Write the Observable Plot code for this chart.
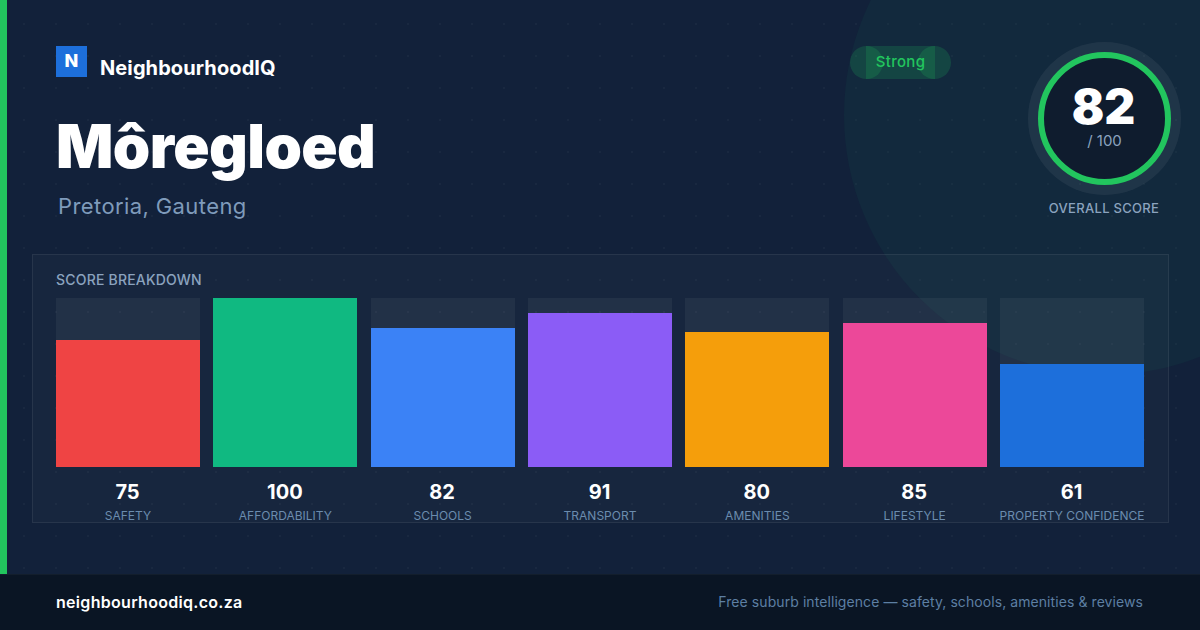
<!DOCTYPE html>
<html><head><meta charset="utf-8">
<script src="https://cdn.jsdelivr.net/npm/d3@7"></script>
<script src="https://cdn.jsdelivr.net/npm/@observablehq/plot@0.6"></script>
<style>
html,body{margin:0;padding:0;width:1200px;height:630px;overflow:hidden;background:#12213a;font-family:Inter,sans-serif}
#card{position:absolute;left:0;top:0;width:1200px;height:630px;overflow:hidden;background:#12213a;
 background-image:radial-gradient(rgba(255,255,255,.03) 1px,transparent 1.5px);background-size:32px 32px;background-position:8px 8px}
#card div{position:absolute;white-space:nowrap}
.blob{left:844px;top:-145px;width:520px;height:520px;border-radius:50%;background:rgba(20,190,110,.05)}
.stripe{left:0;top:0;width:7px;height:574px;background:#22c55e}
.foot{left:0;top:574px;width:1200px;height:56px;background:#0a1524;border-top:1px solid rgba(255,255,255,.04);box-sizing:border-box}
.logo{left:56px;top:46px;width:31px;height:31px;background:#1d6fdb;color:#fff;font-weight:800;font-size:18px;line-height:29px;text-align:center}
.panel{left:32px;top:254px;width:1137px;height:269px;box-sizing:border-box;background:rgba(255,255,255,.025);border:1px solid rgba(255,255,255,.07)}
.pill{background:rgba(34,197,94,.18)}
#plot{position:absolute;left:0;top:0}
#plot svg{display:block;background:transparent}
</style></head><body>
<div id="card">
 <div class="blob"></div>
 <div class="stripe"></div>
 <div class="logo">N</div>
 <div style="left:100px;top:56px;font-size:20px;font-weight:700;color:#fff;line-height:25px;letter-spacing:.1px">NeighbourhoodIQ</div>
 <div style="left:56px;top:110px;font-size:60px;font-weight:900;color:#fff;line-height:72px;letter-spacing:-.6px">Môregloed</div>
 <div style="left:58px;top:191px;font-size:22px;color:#7f9bbb;line-height:30px;letter-spacing:.4px">Pretoria, Gauteng</div>
 <div class="pill" style="left:866px;top:46px;width:69px;height:33px"></div>
 <div class="pill" style="left:850px;top:46px;width:33px;height:33px;border-radius:50%"></div>
 <div class="pill" style="left:918px;top:46px;width:33px;height:33px;border-radius:50%"></div>
 <div style="left:850px;top:46px;width:101px;text-align:center;color:#22c55e;font-size:15px;font-weight:500;line-height:31px;letter-spacing:.3px">Strong</div>
 <div style="left:1038px;top:52px;width:133px;height:133px;box-sizing:border-box;border-radius:50%;border:6px solid #22c55e;background:#0f1c2e;box-shadow:0 0 0 10px rgba(255,255,255,.06)"></div>
 <div style="left:1037px;top:77px;width:133px;text-align:center;font-size:48px;font-weight:900;color:#fff;line-height:60px">82</div>
 <div style="left:1038px;top:132px;width:133px;text-align:center;font-size:15px;color:#8ba3bf;line-height:18px">/ 100</div>
 <div style="left:1004px;top:199px;width:200px;text-align:center;font-size:13px;font-weight:500;color:#8ba3bf;line-height:18px;letter-spacing:.3px">OVERALL SCORE</div>
 <div class="panel"></div>
 <div style="left:56px;top:271px;font-size:14px;font-weight:500;color:#8ba3bf;line-height:18px;letter-spacing:.2px">SCORE BREAKDOWN</div>
 <div class="foot"></div>
 <div style="left:56px;top:592px;font-size:16px;font-weight:600;color:#fff;line-height:20px;letter-spacing:.3px">neighbourhoodiq.co.za</div>
 <div style="right:57px;top:593px;font-size:14px;color:#5d7fa3;line-height:18px;letter-spacing:.075px">Free suburb intelligence — safety, schools, amenities &amp; reviews</div>
 <div id="plot"></div>
</div>
<script>
const categories = ["SAFETY","AFFORDABILITY","SCHOOLS","TRANSPORT","AMENITIES","LIFESTYLE","PROPERTY CONFIDENCE"];
const scores = [75,100,82,91,80,85,61];
const colors = ["#ef4444","#10b981","#3b82f6","#8b5cf6","#f59e0b","#ec4899","#1d6fdb"];
const maxScore = 100;
const rows = categories.map((c,i)=>({category:c,score:scores[i],full:maxScore}));
const chart = Plot.plot({
  width:1200,height:630,
  marginLeft:56,marginRight:56,marginTop:298,marginBottom:163,
  style:{background:"transparent",fontFamily:"Inter, sans-serif"},
  x:{type:"band",domain:categories,paddingInner:0.0847,paddingOuter:0,round:false,label:null},
  y:{domain:[0,maxScore],label:null},
  color:{type:"ordinal",domain:categories,range:colors},
  marks:[
    Plot.barY(rows,{x:"category",y:"full",fill:"#fff",fillOpacity:0.05,shapeRendering:"crispEdges"}),
    Plot.barY(rows,{x:"category",y:"score",fill:"category",shapeRendering:"crispEdges"}),
    Plot.text(rows,{x:"category",y:0,text:d=>String(d.score),dy:25,dx:-1,fill:"#fff",fontSize:20,fontWeight:700}),
    Plot.axisX({anchor:"bottom",tickSize:0,tickPadding:44,dx:-0.5,label:null,fontSize:12,fontWeight:400,color:"#6b8cae",
      style:{letterSpacing:"0.35px"}}),
    Plot.axisY({ticks:[],label:null})
  ]
});
document.getElementById("plot").appendChild(chart);
</script>
</body></html>
